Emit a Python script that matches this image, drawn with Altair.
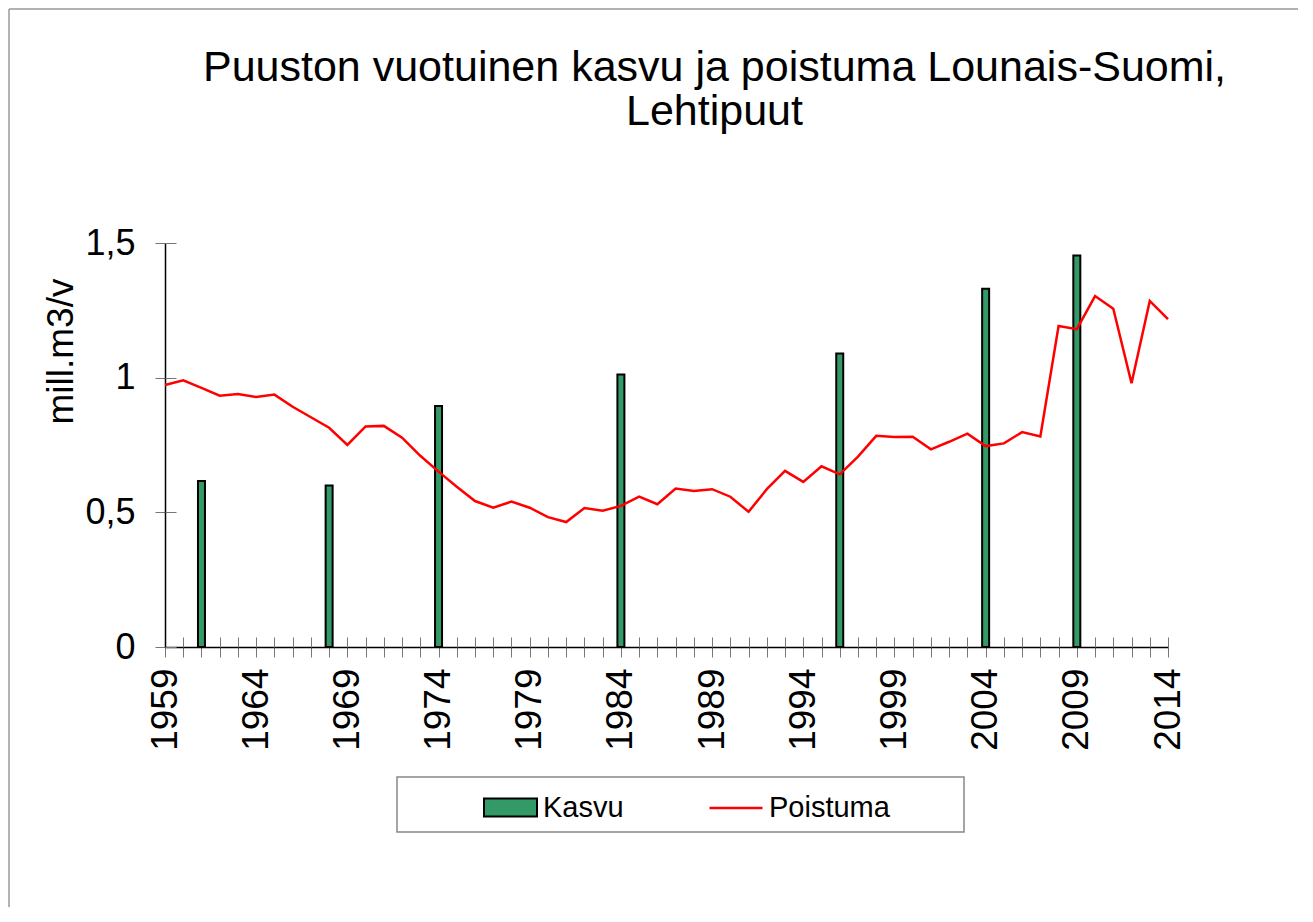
import altair as alt
import pandas as pd

# ---- data ----
years = list(range(1959, 2015))
poistuma = [
    0.973, 0.990, 0.962, 0.933, 0.939, 0.928, 0.937, 0.892, 0.853, 0.814,
    0.750, 0.819, 0.821, 0.777, 0.710, 0.651, 0.595, 0.542, 0.517, 0.540,
    0.517, 0.482, 0.464, 0.516, 0.506, 0.524, 0.558, 0.530, 0.588, 0.579,
    0.586, 0.558, 0.502, 0.586, 0.654, 0.613, 0.671, 0.641, 0.707, 0.784,
    0.780, 0.781, 0.734, 0.762, 0.792, 0.746, 0.756, 0.798, 0.782, 1.192,
    1.180, 1.303, 1.256, 0.979, 1.285, 1.217,
]
kasvu_years = [1961, 1968, 1974, 1984, 1996, 2004, 2009]
kasvu = [0.616, 0.600, 0.895, 1.012, 1.090, 1.330, 1.454]
y_ticks = [0, 0.5, 1, 1.5]
title_lines = ["Puuston vuotuinen kasvu ja poistuma Lounais-Suomi,", "Lehtipuut"]
y_title = "mill.m3/v"

line_df = pd.DataFrame({"vuosi": years, "arvo": poistuma, "sarja": "Poistuma"})
bar_df = pd.DataFrame({"vuosi": kasvu_years, "arvo": kasvu, "sarja": "Kasvu"})
dummy = pd.DataFrame({"d": [0]})

FONT = "Liberation Sans"
W, H = 1003, 404
TICK = "#777777"

xscale = alt.Scale(domain=[1959, 2014], nice=False, zero=False, padding=0)
yscale = alt.Scale(domain=[0, 1.5], nice=False)

x_label_expr = "(datum.value - 1959) % 5 == 0 ? '' + datum.value : ''"
y_label_expr = "replace(toString(datum.value), '.', ',')"

bars = alt.Chart(bar_df).mark_bar(size=7, stroke="black", strokeWidth=2).encode(
    x=alt.X("vuosi:Q", scale=xscale, axis=alt.Axis(
        orient="bottom", values=years, labelExpr=x_label_expr, labelAngle=270,
        labelFontSize=37, labelFont=FONT, labelColor="black", labelPadding=11,
        labelOverlap=False, labelFlush=False, labelBound=False,
        tickSize=10, tickColor=TICK, tickWidth=1,
        domainColor="black", domainWidth=1.5, grid=False, title=None)),
    y=alt.Y("arvo:Q", scale=yscale, axis=alt.Axis(
        orient="left", values=y_ticks, labelExpr=y_label_expr,
        labelFontSize=36, labelFont=FONT, labelColor="black", labelPadding=20,
        tickSize=10, tickColor=TICK, tickWidth=1,
        domainColor="black", domainWidth=1.5, grid=False,
        title=y_title, titleFont=FONT, titleFontSize=37, titleFontWeight="normal",
        titleColor="black", titleAngle=270, titleX=-104, titleY=108,
        titleAlign="center", titleBaseline="middle")),
    fill=alt.Fill("sarja:N", scale=alt.Scale(domain=["Kasvu"], range=["#339966"]),
                  legend=alt.Legend(orient="none", legendX=318, legendY=537, title=None,
                                    symbolType="M-1,-0.34H1V0.34H-1Z", symbolSize=2809,
                                    symbolStrokeColor="black", symbolStrokeWidth=2,
                                    labelFont=FONT, labelFontSize=29, labelColor="black",
                                    labelOffset=5, padding=0)),
)

line = alt.Chart(line_df).mark_line(strokeWidth=2.5).encode(
    x=alt.X("vuosi:Q", scale=xscale, axis=alt.Axis(
        orient="top", offset=-H, values=years, labels=False, domain=False,
        tickSize=10, tickColor=TICK, tickWidth=1, grid=False, title=None)),
    y=alt.Y("arvo:Q", scale=yscale, axis=alt.Axis(
        orient="right", offset=-W, values=y_ticks, labels=False, domain=False,
        tickSize=11, tickColor=TICK, tickWidth=1, grid=False, title=None)),
    stroke=alt.Stroke("sarja:N", scale=alt.Scale(domain=["Poistuma"], range=["#ff0000"]),
                      legend=alt.Legend(orient="none", legendX=543, legendY=537, title=None,
                                        symbolType="stroke", symbolSize=2809,
                                        symbolStrokeWidth=2.5,
                                        labelFont=FONT, labelFontSize=29, labelColor="black",
                                        labelOffset=5, padding=0)),
)

# decorative frame of the chart area and the legend box
frame_top = alt.Chart(dummy).mark_rule(color="#999999", strokeWidth=1.5).encode(
    x=alt.value(-156), x2=alt.value(W + 140), y=alt.value(-234))
frame_left = alt.Chart(dummy).mark_rule(color="#999999", strokeWidth=1.5).encode(
    x=alt.value(-156), y=alt.value(-234), y2=alt.value(H + 280))
legend_box = alt.Chart(dummy).mark_rect(fillOpacity=0, stroke="#888888", strokeWidth=1.5).encode(
    x=alt.value(232), x2=alt.value(799), y=alt.value(534), y2=alt.value(589))

chart = alt.layer(frame_top, frame_left, legend_box, bars, line).resolve_axis(
    x="independent", y="independent"
).properties(
    width=W, height=H,
    autosize=alt.AutoSizeParams(type="none"),
    padding={"left": 157, "top": 235, "right": 130, "bottom": 260},
    title=alt.Title(title_lines, font=FONT, fontSize=43, fontWeight="normal",
                    color="black", anchor="middle", frame="group", dx=48,
                    offset=-126, lineHeight=44),
).configure(background="white", font=FONT).configure_view(stroke=None)

chart.save("out.html", embed_options={"renderer": "svg", "actions": False})
